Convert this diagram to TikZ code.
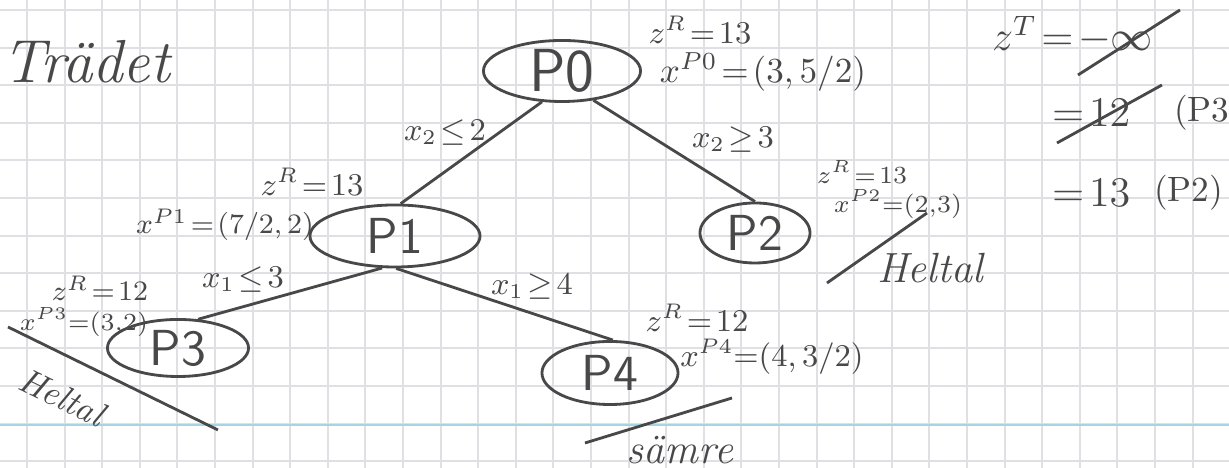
\documentclass[tikz,border=0pt]{standalone}
\usepackage{fontspec}
\usetikzlibrary{shapes.geometric}
\definecolor{gridgray}{RGB}{222,224,228}
\definecolor{marginblue}{RGB}{165,212,226}
\definecolor{pencil}{RGB}{72,72,72}
\begin{document}
\begin{tikzpicture}[x=0.01cm,y=-0.01cm,
  pen/.style={draw=pencil,line width=0.8pt},
  prob/.style={ellipse,pen,inner sep=0pt,font=\Large\sffamily,text=pencil},
  note/.style={text=pencil,inner sep=1pt,font=\small},
  cut/.style={text=pencil,inner sep=1pt,font=\large}]
\thickmuskip=2mu
\useasboundingbox (0,0) rectangle (1229,468);
\fill[white] (0,0) rectangle (1229,468);
\foreach \i in {0,...,32} \draw[gridgray,line width=0.6pt] (27+37.6*\i,0) -- ++(0,468);
\foreach \j in {0,...,12} \draw[gridgray,line width=0.6pt] (0,10+37.6*\j) -- ++(1229,0);
\draw[marginblue,line width=0.6pt] (0,425) -- (1229,425);
\node[cut,font=\LARGE\itshape] (trad) at (86,62) {Trädet};
\node[prob,font=\LARGE\sffamily,minimum width=1.57cm,minimum height=0.52cm] (p0) at (562,71) {P0};
\node[prob,minimum width=1.70cm,minimum height=0.62cm] (p1) at (395,236) {P1};
\node[prob,minimum width=1.10cm,minimum height=0.60cm] (p2) at (755,233) {P2};
\node[prob,minimum width=1.41cm,minimum height=0.57cm] (p3) at (178,348) {P3};
\node[prob,minimum width=1.36cm,minimum height=0.63cm] (p4) at (610,373) {P4};
\draw[pen] (p0.-123) -- (p1.80);
\draw[pen] (p0.-43) -- (p2.north);
\draw[pen] (p1.-112) -- (p3.55);
\draw[pen] (p1.-88) -- (p4.85);
\node[note] (c01) at (445,133) {$x_2 \le 2$};
\node[note] (c02) at (733,140) {$x_2 \ge 3$};
\node[note] (c13) at (243,280) {$x_1 \le 3$};
\node[note] (c14) at (532,287) {$x_1 \ge 4$};
\node[note] (z0) at (700,30) {$z^R = 13$};
\node[note,font=\normalsize] (x0) at (763,72) {$x^{P0} = (3,5/2)$};
\node[note] (z1) at (312,182) {$z^R = 13$};
\node[note,font=\footnotesize] (x1) at (225,225) {$x^{P1} = (7/2,2)$};
\node[note,font=\scriptsize] (z2) at (862,172) {$z^R = 13$};
\node[note,font=\scriptsize] (x2) at (898,204) {$x^{P2}{=}(2{,}3)$};
\node[cut,font=\large\itshape] (h2) at (930,268) {Heltal};
\draw[pen] (827,283) -- (927,213);
\node[note,font=\footnotesize] (z3) at (100,288) {$z^R = 12$};
\node[note,font=\scriptsize] (x3) at (84,322) {$x^{P3}{=}(3{,}2)$};
\node[cut,font=\normalsize\itshape,rotate=-26] (h3) at (62,397) {Heltal};
\draw[pen] (8,327) -- (218,430);
\node[note] (z4) at (697,318) {$z^R = 12$};
\node[note] (x4) at (772,357) {$x^{P4}{=}(4,3/2)$};
\node[cut,font=\large\itshape] (worse) at (680,450) {sämre};
\draw[pen] (585,443) -- (732,398);
\node[cut,anchor=west] (zt) at (988,35) {$z^T = -\infty$};
\draw[pen] (1078,75) -- (1180,10);
\node[cut,anchor=west] (zt12) at (1048,113) {$=12$};
\node[cut,font=\normalsize,anchor=west] (wp3) at (1170,113) {(P3};
\draw[pen] (1057,143) -- (1162,85);
\node[cut,anchor=west] (zt13) at (1048,193) {$=13$};
\node[cut,font=\normalsize,anchor=west] (wp2) at (1150,193) {(P2)};
\end{tikzpicture}
\end{document}
